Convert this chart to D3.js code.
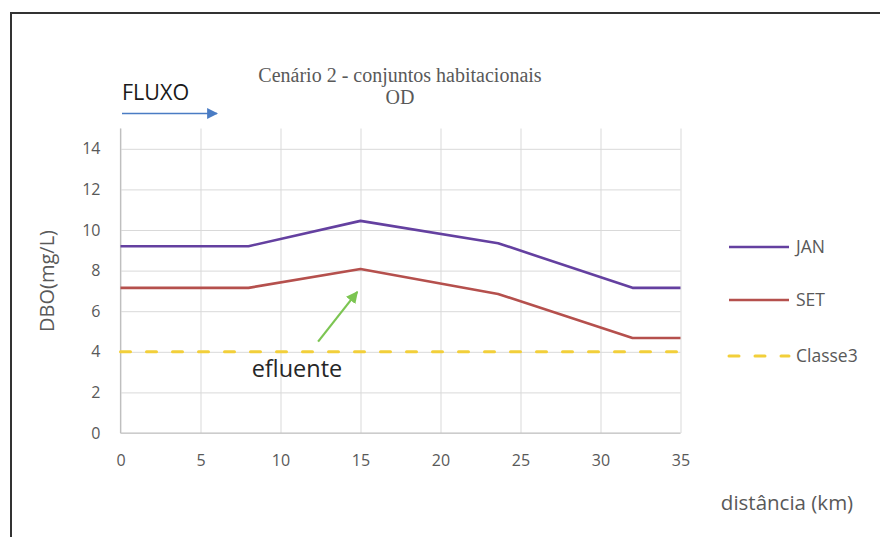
<!DOCTYPE html>
<html>
<head>
<meta charset="utf-8">
<script src="https://cdn.jsdelivr.net/npm/d3@7"></script>
<style>
  html, body { margin: 0; padding: 0; background: #fff; }
  svg { display: block; }
</style>
</head>
<body>
<svg id="chart" width="880" height="537"></svg>
<script>
// Distance along the river (km) and BOD readings for each month
const distJan = [0, 8, 15, 23.6, 32, 35];
const valJan  = [9.2, 9.2, 10.45, 9.35, 7.15, 7.15];
const distSet = [0, 8, 15, 23.6, 32, 35];
const valSet  = [7.15, 7.15, 8.08, 6.85, 4.68, 4.68];
// Class 3 limit
const distClasse = [0, 35];
const valClasse  = [4, 4];

const seriesNames = ["JAN", "SET", "Classe3"];
const seriesColors = ["#6440a0", "#b5504d", "#f2cf3a"];
const xTicks = [0, 5, 10, 15, 20, 25, 30, 35];
const yTicks = [0, 2, 4, 6, 8, 10, 12, 14];

const svg = d3.select("#chart");
const plot = { left: 120.5, right: 680.5, top: 128.5, bottom: 433 };
const sans = "'Open Sans', sans-serif";

const x = d3.scaleLinear().domain([0, 35]).range([plot.left, plot.right]);
const y = d3.scaleLinear().domain([0, 15]).range([plot.bottom, plot.top]);

// outer frame (only the top and left edges fall inside the view)
svg.append("path")
  .attr("d", "M11,537 L11,13 L880,13")
  .attr("fill", "none").attr("stroke", "#333").attr("stroke-width", 2);

// horizontal gridlines and y tick labels
const yAxis = d3.axisLeft(y).tickValues(yTicks)
  .tickSize(-(plot.right - plot.left)).tickPadding(20);
const gy = svg.append("g").attr("transform", `translate(${plot.left},0)`).call(yAxis);
gy.select(".domain").remove();
gy.selectAll(".tick line").attr("stroke", "#d9d9d9").attr("stroke-width", 1);
gy.selectAll(".tick text")
  .attr("fill", "#595959").attr("font-family", sans).attr("font-size", 16);

// vertical gridlines and x tick labels
const xAxis = d3.axisBottom(x).tickValues(xTicks)
  .tickSize(-(plot.bottom - plot.top)).tickPadding(22);
const gx = svg.append("g").attr("transform", `translate(0,${plot.bottom})`).call(xAxis);
gx.select(".domain").remove();
gx.selectAll(".tick line").attr("stroke", "#d9d9d9").attr("stroke-width", 1);
gx.selectAll(".tick text")
  .attr("fill", "#595959").attr("font-family", sans).attr("font-size", 16);

// axis baselines
svg.append("line").attr("x1", plot.left).attr("x2", plot.right)
  .attr("y1", plot.bottom).attr("y2", plot.bottom)
  .attr("stroke", "#bfbfbf").attr("stroke-width", 1.2);
svg.append("line").attr("x1", plot.left).attr("x2", plot.left)
  .attr("y1", plot.top).attr("y2", plot.bottom)
  .attr("stroke", "#bfbfbf").attr("stroke-width", 1.2);

// series lines
const line = d3.line().x(d => x(d[0])).y(d => y(d[1]));
const series = [
  { pts: d3.zip(distJan, valJan), dash: null },
  { pts: d3.zip(distSet, valSet), dash: null },
  { pts: d3.zip(distClasse, valClasse), dash: "10,16" }
];
// draw the limit first so the month lines sit above it
[2, 0, 1].forEach(i => {
  svg.append("path")
    .attr("d", line(series[i].pts))
    .attr("fill", "none")
    .attr("stroke", seriesColors[i])
    .attr("stroke-width", i === 2 ? 3 : 2.6)
    .attr("stroke-linecap", i === 2 ? "round" : "butt")
    .attr("stroke-linejoin", "round")
    .attr("stroke-dasharray", series[i].dash);
});

// legend
const legY = [247, 300, 356];
seriesNames.forEach((name, i) => {
  svg.append("line")
    .attr("x1", 729).attr("x2", 789).attr("y1", legY[i]).attr("y2", legY[i])
    .attr("stroke", seriesColors[i])
    .attr("stroke-width", i === 2 ? 3 : 2.6)
    .attr("stroke-linecap", i === 2 ? "round" : "butt")
    .attr("stroke-dasharray", series[i].dash);
  svg.append("text")
    .attr("x", 796).attr("y", legY[i]).attr("dy", "0.35em")
    .attr("fill", "#595959").attr("font-family", sans)
    .attr("font-size", 17.5).text(name);
});

// title
const title = svg.append("text")
  .attr("text-anchor", "middle").attr("fill", "#595959")
  .attr("font-family", "'Liberation Serif', 'Times New Roman', serif").attr("font-size", 20);
title.append("tspan").attr("x", 400).attr("y", 82).text("Cenário 2 - conjuntos habitacionais");
title.append("tspan").attr("x", 400).attr("y", 104).text("OD");

// axis titles
svg.append("text")
  .attr("transform", "translate(47,281) rotate(-90)")
  .attr("text-anchor", "middle").attr("dy", "0.35em").attr("fill", "#595959")
  .attr("font-family", sans).attr("font-size", 20)
  .text("DBO(mg/L)");
svg.append("text")
  .attr("x", 787).attr("y", 510).attr("text-anchor", "middle")
  .attr("fill", "#595959").attr("font-family", sans)
  .attr("font-size", 20.5).text("distância (km)");

// flow direction marker
svg.append("defs").html(`
  <marker id="blueHead" viewBox="0 0 10 10" refX="9" refY="5" markerUnits="userSpaceOnUse" markerWidth="11" markerHeight="11" orient="auto">
    <path d="M0,0 L10,5 L0,10 z" fill="#4a7cc4"/>
  </marker>
  <marker id="greenHead" viewBox="0 0 10 10" refX="9" refY="5" markerUnits="userSpaceOnUse" markerWidth="12" markerHeight="12" orient="auto">
    <path d="M0,0 L10,5 L0,10 z" fill="#7cc552"/>
  </marker>`);
svg.append("text")
  .attr("x", 122).attr("y", 100).attr("fill", "#1a1a1a")
  .attr("font-family", sans).attr("font-size", 21.5).text("FLUXO");
svg.append("line")
  .attr("x1", 122).attr("y1", 113.5).attr("x2", 217).attr("y2", 113.5)
  .attr("stroke", "#4a7cc4").attr("stroke-width", 1.6).attr("marker-end", "url(#blueHead)");

// effluent discharge annotation
svg.append("line")
  .attr("x1", x(12.35)).attr("y1", y(4.5)).attr("x2", x(14.8)).attr("y2", y(6.95))
  .attr("stroke", "#7cc552").attr("stroke-width", 2.2).attr("marker-end", "url(#greenHead)");
svg.append("text")
  .attr("x", 297).attr("y", 377).attr("text-anchor", "middle").attr("fill", "#262626")
  .attr("font-family", sans).attr("font-size", 23.5).text("efluente");
</script>
</body>
</html>
